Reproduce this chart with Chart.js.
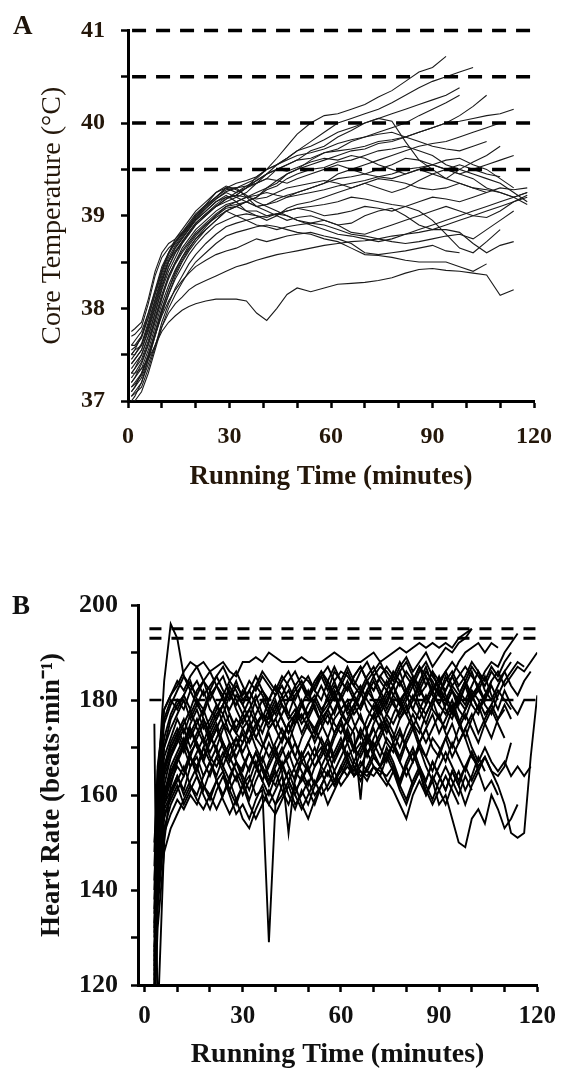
<!DOCTYPE html>
<html>
<head>
<meta charset="utf-8">
<script src="https://cdn.jsdelivr.net/npm/chart.js@4.4.1/dist/chart.umd.min.js"></script>
<style>
  body { margin: 0; background: #fff; }
  #wrap { position: relative; width: 566px; height: 1077px; }
  canvas { position: absolute; left: 0; }
  #chartA { top: 0; }
  #chartB { top: 540px; }
  .panel { position: absolute; font: bold 27px "Liberation Serif", "Times New Roman", serif; }
  #labA { left: 13px; top: 10px; color: #1e140a; }
  #labB { left: 12px; top: 590px; color: #111; }
</style>
</head>
<body>
<div id="wrap">
  <canvas id="chartA" width="566" height="520"></canvas>
  <canvas id="chartB" width="566" height="537"></canvas>
  <div class="panel" id="labA">A</div>
  <div class="panel" id="labB">B</div>
</div>
<script>
// ---- panel A : core temperature (°C) ----
const timeA = [1, 2, 4, 6, 8, 10, 12, 14, 16, 18, 20, 23, 26, 29, 32, 35, 38, 41, 44, 47,
  50, 54, 58, 62, 66, 70, 74, 78, 82, 86, 90, 94, 98, 102, 106, 110, 114, 118];

const coreTemp = [
  [37.5, 37.55, 37.6, 37.8, 38.05, 38.3, 38.5, 38.65, 38.75, 38.85, 38.95, 39.05, 39.15, 39.2, 39.22, 39.3, 39.42, 39.5, 39.62, 39.75, 39.88, 40.0, 40.08, 40.1, 40.15, 40.2, 40.28, 40.35, 40.45, 40.55, 40.6, 40.72],
  [37.4, 37.45, 37.55, 37.75, 38.0, 38.25, 38.45, 38.6, 38.7, 38.8, 38.9, 39.0, 39.1, 39.15, 39.2, 39.25, 39.35, 39.45, 39.55, 39.62, 39.7, 39.8, 39.9, 40.0, 40.05, 40.1, 40.15, 40.22, 40.3, 40.38, 40.45, 40.5, 40.55, 40.6],
  [37.3, 37.35, 37.5, 37.7, 37.95, 38.2, 38.4, 38.55, 38.7, 38.8, 38.9, 39.0, 39.1, 39.18, 39.22, 39.3, 39.35, 39.4, 39.5, 39.55, 39.6, 39.7, 39.75, 39.85, 39.92, 40.0, 40.05, 40.1, 40.15, 40.2, 40.25, 40.3, 40.38],
  [37.2, 37.25, 37.4, 37.6, 37.85, 38.1, 38.35, 38.5, 38.65, 38.75, 38.85, 38.95, 39.05, 39.12, 39.15, 39.2, 39.25, 39.3, 39.38, 39.45, 39.5, 39.6, 39.68, 39.72, 39.8, 39.85, 39.9, 39.95, 40.0, 40.08, 40.15, 40.22, 40.3],
  [37.6, 37.6, 37.7, 37.9, 38.15, 38.4, 38.6, 38.7, 38.8, 38.9, 39.0, 39.1, 39.2, 39.3, 39.25, 39.3, 39.38, 39.45, 39.5, 39.55, 39.6, 39.62, 39.68, 39.7, 39.72, 39.75, 39.8, 39.82, 39.85, 39.9, 39.95, 40.0, 40.08, 40.18, 40.3],
  [37.1, 37.15, 37.3, 37.5, 37.75, 38.0, 38.2, 38.4, 38.55, 38.65, 38.75, 38.85, 38.95, 39.05, 39.1, 39.15, 39.2, 39.3, 39.35, 39.45, 39.5, 39.55, 39.6, 39.65, 39.7, 39.72, 39.78, 39.8, 39.85, 39.9, 39.95, 40.0, 40.02, 40.05, 40.08, 40.1, 40.15],
  [37.5, 37.55, 37.7, 37.95, 38.2, 38.45, 38.6, 38.75, 38.85, 38.95, 39.05, 39.15, 39.25, 39.3, 39.3, 39.35, 39.4, 39.5, 39.55, 39.62, 39.7, 39.75, 39.82, 39.9, 39.95, 40.0, 40.05, 40.02, 39.8, 39.6, 39.5, 39.4, 39.35, 39.3, 39.25],
  [37.0, 37.05, 37.2, 37.45, 37.7, 37.95, 38.15, 38.35, 38.5, 38.62, 38.72, 38.85, 38.95, 39.05, 39.1, 39.15, 39.2, 39.28, 39.32, 39.4, 39.45, 39.5, 39.52, 39.58, 39.6, 39.65, 39.7, 39.72, 39.75, 39.7, 39.65, 39.55, 39.5, 39.45, 39.4, 39.35, 39.25, 39.15],
  [37.3, 37.35, 37.45, 37.65, 37.9, 38.15, 38.35, 38.5, 38.62, 38.72, 38.82, 38.92, 39.02, 39.1, 39.12, 39.15, 39.1, 39.12, 39.18, 39.22, 39.25, 39.3, 39.35, 39.4, 39.42, 39.45, 39.42, 39.4, 39.45, 39.5, 39.45, 39.4, 39.5, 39.58, 39.65, 39.75],
  [37.2, 37.25, 37.35, 37.55, 37.8, 38.05, 38.25, 38.42, 38.55, 38.68, 38.78, 38.9, 39.0, 39.08, 39.1, 39.05, 39.05, 39.0, 39.02, 39.05, 39.08, 39.05, 39.0, 39.02, 39.05, 39.1, 39.08, 39.05, 39.1, 39.15, 39.2, 39.18, 39.15, 39.2, 39.25, 39.3, 39.28, 39.3],
  [37.4, 37.45, 37.55, 37.78, 38.02, 38.28, 38.5, 38.62, 38.72, 38.82, 38.92, 39.02, 39.12, 39.2, 39.22, 39.2, 39.18, 39.2, 39.25, 39.3, 39.32, 39.35, 39.38, 39.35, 39.3, 39.35, 39.4, 39.38, 39.35, 39.3, 39.28, 39.3, 39.35, 39.3, 39.28, 39.25, 39.2, 39.12],
  [37.1, 37.15, 37.25, 37.45, 37.7, 37.95, 38.15, 38.32, 38.45, 38.58, 38.68, 38.8, 38.9, 38.95, 39.0, 39.02, 39.0, 38.98, 39.02, 39.05, 39.08, 39.1, 39.12, 39.15, 39.2, 39.18, 39.15, 39.12, 39.1, 39.05, 38.95, 38.8, 38.65, 38.6, 38.72, 38.85],
  [37.0, 37.0, 37.1, 37.3, 37.55, 37.8, 38.0, 38.15, 38.28, 38.4, 38.5, 38.6, 38.7, 38.78, 38.82, 38.85, 38.88, 38.9, 38.88, 38.85, 38.82, 38.8, 38.75, 38.72, 38.65, 38.58, 38.57, 38.55, 38.52, 38.5, 38.5, 38.5, 38.45, 38.4, 38.48],
  [37.3, 37.3, 37.35, 37.45, 37.6, 37.75, 37.85, 37.92, 37.98, 38.02, 38.05, 38.08, 38.1, 38.1, 38.1, 38.08, 37.95, 37.87, 38.0, 38.15, 38.22, 38.18, 38.22, 38.26, 38.27, 38.28, 38.3, 38.33, 38.38, 38.42, 38.43, 38.41, 38.4, 38.38, 38.36, 38.14, 38.2],
  [37.05, 37.1, 37.2, 37.4, 37.6, 37.8, 37.95, 38.05, 38.12, 38.2, 38.25, 38.3, 38.35, 38.4, 38.45, 38.48, 38.52, 38.55, 38.58, 38.6, 38.62, 38.65, 38.68, 38.7, 38.72, 38.73, 38.75, 38.78, 38.8, 38.82, 38.85, 38.85, 38.82, 38.7, 38.6, 38.68, 38.72],
  [37.15, 37.2, 37.3, 37.5, 37.72, 37.92, 38.08, 38.2, 38.3, 38.38, 38.45, 38.52, 38.58, 38.62, 38.65, 38.7, 38.75, 38.72, 38.75, 38.78, 38.8, 38.82, 38.78, 38.75, 38.7, 38.6, 38.58, 38.6, 38.62, 38.65, 38.68, 38.62, 38.6],
  [37.6, 37.65, 37.75, 37.95, 38.18, 38.42, 38.6, 38.72, 38.82, 38.92, 39.02, 39.12, 39.2, 39.28, 39.3, 39.2, 39.1, 39.05, 39.0, 38.95, 38.98, 39.0, 38.95, 38.9, 38.92, 39.0, 39.05, 39.08, 39.0, 38.9, 38.85, 38.9, 38.95, 39.0, 39.05, 39.1, 39.15, 39.2],
  [37.35, 37.4, 37.5, 37.7, 37.95, 38.22, 38.45, 38.6, 38.72, 38.82, 38.92, 39.02, 39.1, 39.18, 39.25, 39.32, 39.38, 39.45, 39.5, 39.48, 39.52, 39.58, 39.62, 39.6, 39.65, 39.62, 39.55, 39.5, 39.45, 39.5, 39.55, 39.6, 39.62, 39.55, 39.5, 39.4, 39.3],
  [37.45, 37.5, 37.62, 37.85, 38.1, 38.35, 38.55, 38.68, 38.78, 38.88, 38.98, 39.08, 39.18, 39.25, 39.2, 39.15, 39.1, 39.12, 39.15, 39.2, 39.22, 39.25, 39.28, 39.32, 39.35, 39.38, 39.42, 39.45, 39.5, 39.52, 39.55, 39.5, 39.45, 39.4, 39.3, 39.25, 39.2, 39.25],
  [37.75, 37.78, 37.85, 38.1, 38.4, 38.6, 38.7, 38.75, 38.82, 38.9, 39.0, 39.12, 39.25, 39.32, 39.28, 39.22, 39.15, 39.1, 39.05, 39.0, 38.95, 38.92, 38.9, 38.85, 38.8, 38.78, 38.75, 38.72, 38.7, 38.72, 38.75, 38.78, 38.8, 38.75, 38.85, 38.95, 39.05],
  [37.7, 37.72, 37.8, 38.05, 38.35, 38.55, 38.65, 38.72, 38.8, 38.88, 38.98, 39.1, 39.2, 39.3, 39.35, 39.38, 39.42, 39.5, 39.55, 39.6, 39.65, 39.68, 39.72, 39.78, 39.82, 39.85, 39.88, 39.9, 39.85, 39.8, 39.75, 39.72, 39.7, 39.75, 39.8],
  [37.25, 37.3, 37.42, 37.62, 37.88, 38.12, 38.32, 38.48, 38.6, 38.7, 38.8, 38.9, 38.98, 39.05, 39.0, 38.95, 38.9, 38.88, 38.85, 38.88, 38.9, 38.92, 38.95, 38.9, 38.82, 38.8, 38.85, 38.9, 38.95, 39.0, 39.05, 39.1, 39.05, 39.0, 38.98, 39.05, 39.15, 39.22],
  [37.55, 37.58, 37.68, 37.9, 38.15, 38.38, 38.58, 38.72, 38.8, 38.88, 38.95, 39.05, 39.15, 39.22, 39.15, 39.05, 39.0, 38.95, 39.0, 39.08, 39.12, 39.15, 39.2, 39.25, 39.3, 39.35, 39.3, 39.25, 39.3, 39.38, 39.45, 39.5, 39.55, 39.5, 39.45, 39.42],
  [37.15, 37.18, 37.28, 37.48, 37.72, 37.98, 38.2, 38.38, 38.52, 38.64, 38.75, 38.88, 39.0, 39.1, 39.15, 39.2, 39.22, 39.25, 39.22, 39.2, 39.25, 39.3, 39.35, 39.45, 39.5, 39.55, 39.6, 39.65, 39.7, 39.75, 39.78, 39.8, 39.85, 39.9, 39.95, 40.0],
  [37.05, 37.08, 37.15, 37.35, 37.58, 37.85, 38.05, 38.22, 38.35, 38.48, 38.58, 38.7, 38.8, 38.88, 38.92, 38.95, 38.98, 39.0, 39.02, 39.0, 38.95, 38.9, 38.85, 38.8, 38.78, 38.75, 38.72, 38.75, 38.8, 38.85, 38.9, 38.95, 39.0, 39.05, 39.1, 39.15, 39.2, 39.25],
  [37.5, 37.5, 37.6, 37.82, 38.08, 38.32, 38.52, 38.66, 38.76, 38.86, 38.96, 39.08, 39.18, 39.26, 39.3, 39.32, 39.35, 39.4, 39.38, 39.35, 39.4, 39.45, 39.5, 39.55, 39.5, 39.45, 39.5, 39.55, 39.62, 39.6, 39.55, 39.5, 39.45, 39.5, 39.55, 39.6, 39.65]
];

const tempLimits = [41, 40.5, 40, 39.5];
const tempTickLabels = [37, 38, 39, 40, 41];

// ---- panel B : heart rate (beats/min) ----
const timeB = [3, 4, 6, 8, 10, 12, 14, 16, 18, 20, 22, 24, 26, 28, 30, 32, 34, 36, 38, 40,
  42, 44, 46, 48, 50, 52, 54, 56, 58, 60, 62, 64, 66, 68, 70, 72, 74, 76, 78, 80,
  82, 84, 86, 88, 90, 92, 94, 96, 98, 100, 102, 104, 106, 108, 110, 112, 114, 116, 118, 120];

const heartRate = [
  [150, 162, 184, 196, 193, 185, 182, 184, 181, 183, 185, 182, 180, 183, 181, 184, 182, 185, 183, 181,
   184, 186, 183, 185, 184, 182, 185, 187, 184, 186, 185, 183, 186, 188, 185, 187, 186, 184, 187, 189,
   186, 188, 190, 187, 189, 191, 190, 192, 193, 195],
  [140, 165, 178, 181, 183, 186, 188, 187, 188, 186, 187, 188, 186, 185, 188, 188, 189, 188, 190, 189,
   188, 188, 188, 189, 188, 188, 188, 189, 190, 189, 188, 188, 188, 189, 190, 188, 189, 190, 191, 190,
   191, 192, 191, 192, 191, 192, 191, 193, 194, 195],
  [135, 155, 170, 176, 179, 181, 178, 182, 184, 180, 183, 185, 181, 179, 182, 180, 183, 181, 178, 181,
   183, 180, 182, 184, 181, 183, 185, 182, 186, 184, 182, 185, 187, 184, 182, 185, 187, 185, 183, 186,
   184, 187, 185, 182, 184, 186, 183, 185, 187, 185, 183, 186, 188, 187, 190, 192, 194],
  [128, 150, 165, 170, 173, 176, 172, 175, 178, 174, 177, 179, 175, 173, 176, 178, 175, 177, 174, 176,
   179, 176, 178, 175, 177, 180, 177, 179, 182, 178, 180, 177, 179, 182, 180, 178, 181, 183, 180, 182,
   185, 182, 180, 183, 181, 179, 182, 180, 178, 181, 183, 180, 184, 186, 183, 185, 187, 186, 188, 190],
  [120, 140, 158, 163, 166, 164, 168, 165, 170, 167, 164, 168, 171, 167, 165, 169, 166, 163, 167, 170,
   166, 168, 171, 167, 165, 168, 170, 167, 169, 172, 168, 170, 173, 169, 171, 168, 172, 170, 167, 171,
   174, 170, 168, 172, 170, 167, 171, 168, 165, 169, 166, 168, 165, 162, 158, 152, 151, 152, 168, 181],
  [115, 138, 155, 160, 164, 161, 166, 168, 164, 167, 170, 166, 163, 167, 164, 161, 165, 168, 164, 162,
   166, 169, 165, 163, 167, 170, 166, 164, 168, 171, 167, 165, 169, 172, 168, 166, 170, 167, 163, 166,
   162, 165, 160, 163, 158, 160, 155, 150, 149, 155, 157, 154, 160, 157, 153, 155, 158],
  [118, 145, 162, 168, 171, 174, 170, 173, 176, 172, 170, 174, 177, 173, 171, 175, 172, 170, 174, 176,
   173, 171, 175, 177, 174, 172, 176, 178, 175, 173, 176, 179, 176, 174, 177, 180, 177, 175, 178, 181,
   178, 176, 179, 182, 179, 177, 180, 176, 172, 168, 166, 168, 165, 164, 166, 171],
  [125, 148, 158, 161, 164, 160, 163, 166, 162, 159, 163, 165, 161, 158, 162, 164, 160, 161, 129, 158,
   162, 165, 161, 163, 166, 162, 164, 167, 163, 165, 168, 164, 166, 169, 166, 164, 168, 165, 162, 166,
   169, 165, 163, 167, 164, 161, 165, 162, 158, 162, 165, 161, 163, 160],
  [130, 152, 164, 168, 172, 169, 173, 176, 172, 169, 172, 175, 171, 168, 171, 174, 170, 167, 171, 168,
   165, 152, 164, 168, 171, 168, 172, 169, 173, 176, 172, 170, 174, 171, 175, 178, 174, 172, 176, 179,
   175, 173, 177, 180, 176, 174, 178, 175, 172, 176, 179, 175, 172, 176, 179, 176],
  [175, 112, 150, 162, 167, 171, 168, 172, 175, 171, 174, 177, 173, 170, 174, 176, 172, 175, 178, 174,
   171, 175, 177, 173, 176, 179, 175, 172, 176, 178, 175, 173, 159, 174, 177, 174, 177, 180, 176, 178,
   181, 178, 175, 179, 182, 178, 176, 180, 183, 179, 177, 181, 183, 180],
  [122, 146, 156, 159, 162, 158, 161, 164, 160, 157, 161, 164, 160, 156, 158, 155, 159, 162, 158, 161,
   164, 160, 157, 161, 158, 162, 165, 161, 163, 166, 164, 166, 164, 165, 164, 166, 163, 161, 158, 155,
   160, 163, 160, 164, 161, 158, 162, 165, 161, 164, 168, 165],
  [138, 158, 172, 177, 180, 178, 182, 179, 177, 181, 183, 180, 178, 181, 179, 176, 180, 182, 179, 177,
   180, 182, 179, 176, 179, 181, 178, 180, 183, 181, 178, 181, 183, 180, 178, 181, 184, 181, 179, 182,
   184, 181, 183, 186, 182, 180, 183, 181, 179, 182, 180, 177, 179, 182, 180, 178],
  [119, 142, 160, 166, 169, 172, 168, 166, 170, 173, 169, 166, 170, 172, 168, 165, 169, 166, 163, 167,
   170, 166, 163, 167, 169, 166, 168, 171, 167, 170, 173, 169, 171, 168, 172, 175, 171, 169, 173, 170,
   167, 171, 174, 170, 168, 172, 175, 171, 174, 177, 173, 176, 179, 176, 178],
  [124, 150, 166, 171, 174, 171, 175, 178, 174, 176, 179, 175, 173, 176, 174, 171, 174, 177, 176, 179,
   176, 173, 177, 180, 176, 174, 177, 175, 178, 181, 177, 179, 182, 178, 176, 179, 182, 179, 177, 180,
   183, 179, 177, 180, 183, 180, 177, 181, 184, 180, 182, 185, 181, 178, 182, 179, 177, 180],
  [117, 136, 152, 156, 159, 157, 160, 158, 162, 160, 157, 160, 163, 159, 155, 153, 157, 160, 158, 156,
   159, 162, 158, 160, 163, 160, 162, 165, 162, 164, 166, 164, 165, 164, 166, 165, 164, 166, 162, 159,
   163, 166, 162, 159, 163, 166, 163, 160, 164, 161],
  [142, 160, 175, 179, 182, 185, 183, 181, 184, 186, 183, 181, 184, 186, 183, 180, 183, 186, 184, 182,
   185, 183, 180, 183, 185, 182, 180, 184, 187, 184, 182, 185, 187, 184, 186, 188, 185, 183, 186, 188,
   185, 183, 186, 184, 181, 184, 186, 183, 185, 188, 186, 184, 187, 185, 188, 190],
  [121, 144, 160, 165, 168, 165, 169, 171, 167, 164, 168, 171, 168, 165, 162, 166, 169, 165, 162, 166,
   169, 172, 168, 165, 162, 166, 169, 172, 168, 170, 174, 170, 168, 171, 174, 170, 167, 171, 174, 170,
   167, 171, 168, 165, 169, 172, 168, 171, 174, 170, 167, 170, 167, 165, 167, 164, 166, 164, 166],
  [132, 154, 168, 172, 176, 173, 177, 180, 176, 173, 176, 179, 182, 178, 175, 178, 181, 177, 175, 178,
   181, 177, 175, 179, 176, 173, 177, 181, 184, 180, 183, 180, 178, 182, 185, 182, 179, 183, 186, 182,
   180, 184, 187, 183, 181, 185, 182, 179, 183, 186, 182, 180, 183],
  [126, 147, 157, 160, 163, 166, 162, 160, 164, 167, 163, 160, 164, 167, 163, 159, 163, 166, 162, 165,
   161, 158, 162, 158, 155, 159, 162, 158, 161, 164, 167, 164, 167, 165, 168, 166, 169, 166, 163, 167,
   170, 166, 163, 167, 164, 161, 165, 162, 166, 169, 165, 168],
  [133, 156, 166, 170, 173, 170, 174, 171, 168, 172, 175, 171, 168, 172, 169, 172, 175, 171, 168, 171,
   174, 171, 168, 172, 175, 171, 174, 177, 173, 176, 179, 175, 172, 176, 179, 176, 173, 177, 180, 177,
   174, 178, 181, 178, 176, 179, 182, 178, 176, 180, 183, 179, 177, 181, 184, 186, 188, 187],
  [127, 150, 161, 164, 167, 170, 166, 169, 172, 168, 166, 169, 166, 163, 166, 169, 166, 163, 166, 169,
   166, 163, 166, 169, 165, 162, 166, 169, 165, 168, 171, 167, 170, 173, 169, 172, 175, 171, 168, 172,
   175, 171, 174, 177, 173, 176, 179, 175, 178, 181, 178, 180],
  [145, 163, 176, 180, 178, 181, 184, 180, 178, 182, 179, 177, 181, 184, 180, 182, 179, 176, 180, 183,
   179, 177, 181, 183, 180, 183, 186, 183, 180, 183, 186, 183, 181, 184, 182, 185, 183, 186, 184, 181,
   184, 187, 183, 186, 184, 182, 185, 188, 190, 191, 192, 190, 192, 191],
  [136, 157, 170, 174, 177, 180, 176, 179, 182, 178, 176, 179, 183, 180, 177, 174, 177, 180, 177, 174,
   177, 180, 183, 179, 177, 180, 183, 180, 177, 181, 184, 181, 178, 181, 184, 181, 178, 181, 184, 181,
   178, 182, 185, 181, 179, 182, 185, 182, 180, 183, 186, 182, 180, 183, 186, 183, 181, 184, 186],
  [123, 145, 159, 164, 168, 171, 174, 170, 167, 171, 174, 170, 167, 170, 173, 169, 166, 170, 173, 169,
   172, 175, 171, 168, 171, 174, 171, 168, 172, 175, 171, 174, 177, 173, 170, 173, 176, 173, 170, 174,
   177, 174, 171, 174, 177, 173, 170, 174, 177, 174, 171, 175, 178, 175, 172],
  [116, 140, 153, 158, 161, 164, 168, 164, 161, 165, 168, 165, 161, 164, 160, 163, 167, 163, 160, 164,
   167, 163, 160, 164, 161, 158, 162, 165, 162, 166, 169, 166, 163, 166, 169, 166, 168, 171, 167, 164,
   167, 170, 166, 163, 166, 169, 166, 163, 166, 163, 166],
  [148, 166, 178, 181, 184, 182, 185, 187, 184, 182, 185, 187, 184, 182, 179, 182, 185, 182, 180, 183,
   181, 184, 186, 183, 181, 184, 186, 184, 181, 184, 187, 184, 182, 185, 187, 184, 182, 185, 188, 185,
   183, 186, 188, 185, 183, 186, 188, 186, 184, 187, 185, 183, 186, 184, 186, 188],
  [131, 153, 165, 169, 172, 175, 178, 174, 171, 175, 178, 181, 177, 174, 177, 180, 176, 173, 177, 180,
   176, 173, 176, 179, 182, 178, 175, 178, 181, 177, 175, 178, 181, 184, 180, 177, 180, 183, 179, 177,
   180, 183, 179, 182, 185, 181, 178, 181, 184, 181, 178, 181, 184],
  [114, 132, 148, 153, 156, 159, 162, 159, 157, 160, 163, 159, 156, 159, 162, 158, 155, 158, 161, 158,
   160, 163, 160, 157, 160, 163, 160, 162, 165, 162, 164, 167, 165, 163, 166, 164, 162, 165, 161, 158,
   162, 165, 161, 158, 161, 164, 161, 158]
];

const hrLimits = [195, 193];
const hrMidLimit = [180];
const hrTickLabels = [120, 140, 160, 180, 200];
const minuteTickLabels = [0, 30, 60, 90, 120];

const serif = '"Liberation Serif", "Times New Roman", serif';
const inkA = '#24170a';
const inkB = '#111111';

function limitSet(values, from, to, width, dash) {
  return values.map(v => ({
    data: [{ x: from, y: v }, { x: to, y: v }],
    borderColor: '#000',
    borderWidth: width,
    borderDash: dash,
    pointRadius: 0,
    clip: false
  }));
}

function traceSet(times, runs, color, width) {
  return runs.map(run => ({
    data: run.map((v, i) => ({ x: times[i], y: v })),
    borderColor: color,
    borderWidth: width,
    pointRadius: 0,
    tension: 0
  }));
}

function axisStyle(color, fontSize, pad) {
  return {
    grid: { drawOnChartArea: false, drawTicks: true, tickLength: 7, tickWidth: 2.5, tickColor: '#000' },
    border: { display: true, color: '#000', width: 3 },
    ticks: { color: color, padding: pad, autoSkip: false, maxRotation: 0,
             font: { family: serif, weight: 'bold', size: fontSize } }
  };
}

const baseOptions = {
  responsive: false,
  animation: false,
  events: [],
  plugins: { legend: { display: false }, tooltip: { enabled: false } },
  elements: { point: { radius: 0 } }
};

// panel A
const xA = axisStyle(inkA, 24, 14);
xA.type = 'linear'; xA.min = 0; xA.max = 120;
xA.ticks.stepSize = 10;
xA.ticks.callback = v => minuteTickLabels.includes(v) ? v : '';
xA.title = { display: true, text: 'Running Time (minutes)', color: inkA,
  font: { family: serif, weight: 'bold', size: 27 }, padding: { top: 0, bottom: 27 } };
xA.afterFit = s => { s.height = 119; };

const yA = axisStyle(inkA, 24, 16);
yA.min = 37; yA.max = 41;
yA.ticks.stepSize = 0.5;
yA.ticks.callback = v => tempTickLabels.includes(v) ? v : '';
yA.title = { display: true, text: 'Core Temperature (°C)', color: inkA,
  font: { family: serif, weight: 'normal', size: 28 }, padding: { top: 36, bottom: 0 } };
yA.afterFit = s => { s.width = 128; };

new Chart(document.getElementById('chartA'), {
  type: 'line',
  data: { datasets: [
    ...limitSet(tempLimits, 1.2, 120, 3.5, [14, 10]),
    ...traceSet(timeA, coreTemp, '#1b1b1b', 1.1)
  ] },
  options: Object.assign({}, baseOptions, {
    layout: { padding: { left: 0, right: 28, top: 25, bottom: 0 } },
    scales: { x: xA, y: yA }
  })
});

// panel B
const xB = axisStyle(inkB, 25, 10);
xB.type = 'linear'; xB.min = -2; xB.max = 120;
xB.ticks.stepSize = 10;
xB.ticks.includeBounds = false;
xB.ticks.callback = v => minuteTickLabels.includes(v) ? v : '';
xB.title = { display: true, text: 'Running Time (minutes)', color: inkB,
  font: { family: serif, weight: 'bold', size: 28 }, padding: { top: 0, bottom: 5 } };
xB.afterFit = s => { s.height = 92; };

const yB = axisStyle(inkB, 26, 13);
yB.min = 120; yB.max = 200;
yB.ticks.stepSize = 10;
yB.ticks.callback = v => hrTickLabels.includes(v) ? v : '';
yB.title = { display: true, text: 'Heart Rate (beats·min⁻¹)', color: inkB,
  font: { family: serif, weight: 'bold', size: 27 }, padding: { top: 36, bottom: 0 } };
yB.afterFit = s => { s.width = 138; };

new Chart(document.getElementById('chartB'), {
  type: 'line',
  data: { datasets: [
    ...limitSet(hrLimits, 1.5, 120, 3, [12, 10]),
    ...traceSet(timeB, heartRate, '#000', 1.9),
    ...limitSet(hrMidLimit, 1.5, 120, 2.5, [12, 10])
  ] },
  options: Object.assign({}, baseOptions, {
    layout: { padding: { left: 0, right: 28, top: 65, bottom: 0 } },
    scales: { x: xB, y: yB }
  })
});
</script>
</body>
</html>
